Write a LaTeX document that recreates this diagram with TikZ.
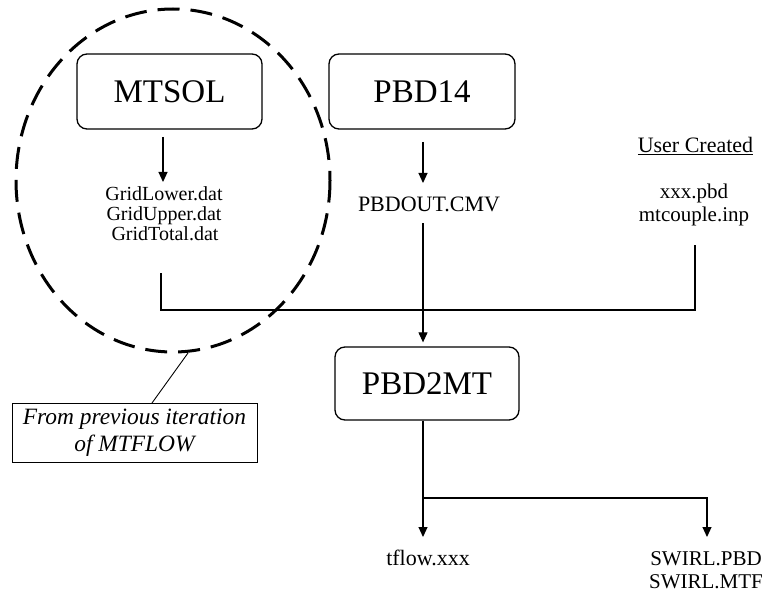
\documentclass[tikz,border=0pt]{standalone}
\usepackage{fontspec}
\setmainfont{Liberation Serif}
\usetikzlibrary{arrows.meta}
\begin{document}
\begin{tikzpicture}[x=1pt,y=-1pt,
  prog/.style={draw, line width=1.3pt, rounded corners=10pt, minimum width=185pt, minimum height=75pt, inner sep=0pt, font=\fontsize{33}{38}\selectfont},
  file/.style={anchor=base, inner sep=0pt, font=\fontsize{22}{26}\selectfont},
  gridfile/.style={file, font=\fontsize{20}{24}\selectfont},
  conn/.style={line width=1.1pt},
  arr/.style={conn, -{Triangle[length=10pt,width=9pt]}},
  loop/.style={line width=3pt, dash pattern=on 22pt off 11pt},
  note/.style={draw, line width=1pt, minimum width=245pt, minimum height=59pt, inner sep=0pt, align=center, font=\itshape\fontsize{23.4}{27.5}\selectfont}
]
\useasboundingbox (0,0) rectangle (765,596);

% programs
\node[prog] (mtsol) at (169.5,91.5) {MTSOL};
\node[prog, minimum width=186pt] (pbd14) at (422,91.5) {PBD14};
\node[prog, minimum width=184pt, minimum height=73pt] (pbd2mt) at (427,383.5) {PBD2MT};

% files
\node[gridfile] (gl) at (164,200.7) {GridLower.dat};
\node[gridfile] (gu) at (164,220.5) {GridUpper.dat};
\node[gridfile] (gt) at (165,240.3) {GridTotal.dat};
\node[file] (pout) at (429,211.7) {PBDOUT.CMV};
\node[file] (uc) at (695.5,153) {\underline{User Created}};
\node[file, font=\fontsize{21}{25}\selectfont] (xp) at (694,198) {xxx.pbd};
\node[file, font=\fontsize{21}{25}\selectfont] (mc) at (694,222) {mtcouple.inp};
\node[file] (tf) at (428,565) {tflow.xxx};
\node[file, font=\fontsize{21}{25}\selectfont] (sp) at (706,565) {SWIRL.PBD};
\node[file, font=\fontsize{21}{25}\selectfont] (sm) at (706,588.5) {SWIRL.MTF};

% note
\node[note] (note) at (134.5,432.5) {From previous iteration\\of MTFLOW};

% dashed loop
\draw[loop] (173,180.5) ellipse [x radius=157, y radius=171.5];

% coordinates
\coordinate (a1s) at (163,137);
\coordinate (a1e) at (163,182);
\coordinate (a2s) at (423,142);
\coordinate (a2e) at (423,183);
\coordinate (ps) at (423,223);
\coordinate (gs) at (161,273);
\coordinate (us) at (695,245);
\coordinate (bus) at (0,310);
\coordinate (br) at (0,498);
\coordinate (outx) at (707,537);
\coordinate (cl) at (188,353);
\coordinate (nt) at (152,403);

% connectors
\draw[arr] (a1s) -- (a1e);
\draw[arr] (a2s) -- (a2e);
\draw[conn] (gs) -- (gs |- bus) -- (us |- bus) -- (us);
\draw[arr] (ps) -- ([yshift=4pt]pbd2mt.north -| ps);
\draw[arr] (pbd2mt.south -| ps) -- (ps |- outx);
\draw[arr] (ps |- br) -- (outx |- br) -- (outx);
\draw[line width=0.9pt] (cl) -- (nt);
\end{tikzpicture}
\end{document}
